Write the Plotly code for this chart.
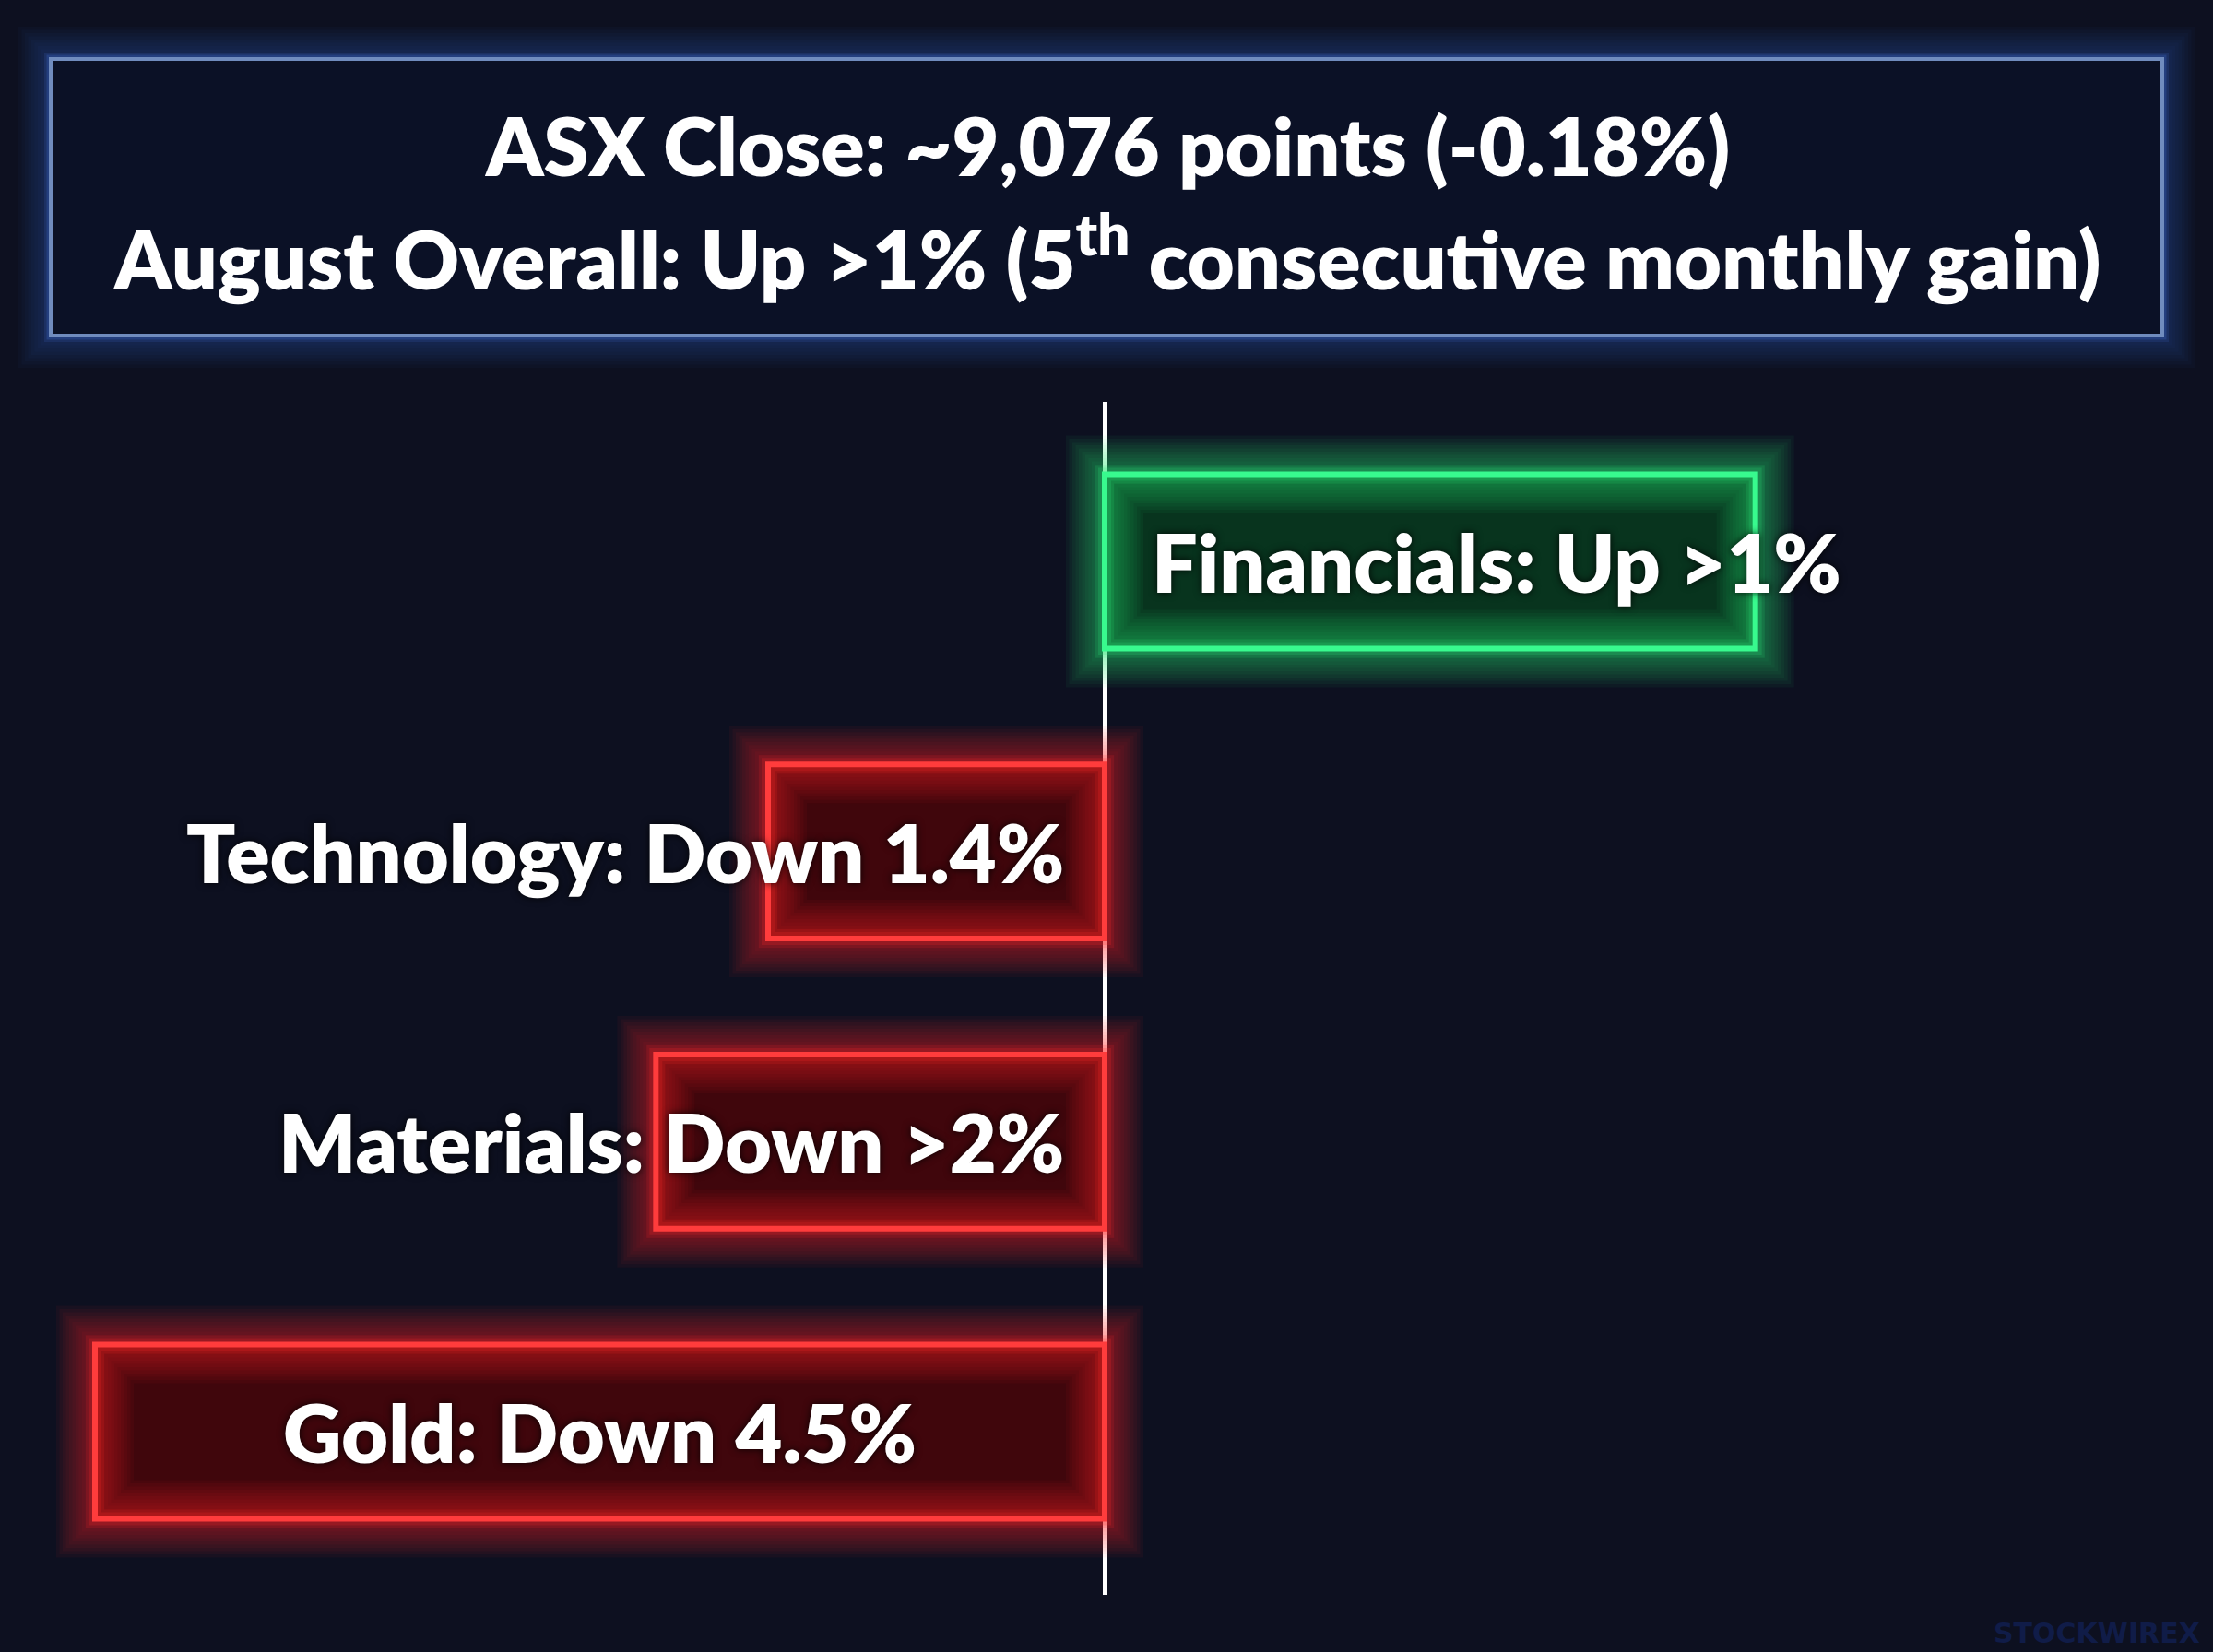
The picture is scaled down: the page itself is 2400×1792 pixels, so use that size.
import plotly.graph_objects as go

# ---- data ----
sectors = ["Financials", "Technology", "Materials", "Gold"]
bar_values = [2.9, -1.5, -2.0, -4.5]          # bar lengths as drawn (percent)
labels = ["Financials: Up >1%", "Technology: Down 1.4%",
          "Materials: Down >2%", "Gold: Down 4.5%"]
title_line1 = "ASX Close: ~9,076 points (-0.18%)"
title_line2 = "August Overall: Up >1% (5<sup>th</sup> consecutive monthly gain)"
watermark = "STOCKWIREX"

# ---- style ----
W, H = 2400, 1792
BG = "#0d1020"
FONT = "Lato"
WEIGHT = 800
fill_cols = ["rgb(8,52,30)" if v > 0 else "rgb(64,6,12)" for v in bar_values]
line_rgb = [(46, 230, 122) if v > 0 else (255, 40, 40) for v in bar_values]
SHADOW = "0px 0px 8px rgba(0,0,0,0.85)"

MT, MB = 436, 62
plot_h = H - MT - MB


def px_to_paper_y(py):
    return (H - MB - py) / plot_h


fig = go.Figure()

# base fill
fig.add_trace(go.Bar(
    x=bar_values, y=sectors, orientation="h", width=0.6,
    marker=dict(color=fill_cols, line=dict(width=0)),
    hoverinfo="skip", showlegend=False,
))
# glow layers (many thin steps for a smooth halo)
glow_steps = [(w, 0.05) for w in range(84, 20, -7)] + [(20, 0.12), (14, 0.2)]
for w, a in glow_steps:
    fig.add_trace(go.Bar(
        x=bar_values, y=sectors, orientation="h", width=0.6,
        marker=dict(color="rgba(0,0,0,0)",
                    line=dict(width=w,
                              color=[f"rgba({r},{g},{b},{a})" for r, g, b in line_rgb])),
        hoverinfo="skip", showlegend=False,
    ))
# crisp outline
fig.add_trace(go.Bar(
    x=bar_values, y=sectors, orientation="h", width=0.6,
    marker=dict(color="rgba(0,0,0,0)",
                line=dict(width=6,
                          color=[f"rgb({min(r+10,255)},{min(g+20,255)},{min(b+20,255)})" for r, g, b in line_rgb])),
    hoverinfo="skip", showlegend=False,
))

# bar labels
anchors = ["left", "right", "right", "center"]
for s, v, lab, anc in zip(sectors, bar_values, labels, anchors):
    if anc == "center":
        xv, shift = v / 2, 0
    elif anc == "left":
        xv, shift = 0, 49
    else:
        xv, shift = 0, -42
    fig.add_annotation(
        x=xv, y=s, xref="x", yref="y", text=lab, showarrow=False,
        xanchor=anc, yanchor="middle", xshift=shift,
        font=dict(family=FONT, size=88, color="white", weight=WEIGHT, shadow=SHADOW),
    )

# title box glow + box
bx0, bx1 = 55 / W, 2345 / W
by0, by1 = px_to_paper_y(364), px_to_paper_y(64)
for w, a in [(w, 0.035) for w in range(70, 16, -7)] + [(14, 0.14), (9, 0.22)]:
    fig.add_shape(type="rect", xref="paper", yref="paper",
                  x0=bx0, x1=bx1, y0=by0, y1=by1,
                  line=dict(color=f"rgba(70,120,230,{a})", width=w),
                  fillcolor="rgba(0,0,0,0)", layer="below")
fig.add_shape(type="rect", xref="paper", yref="paper",
              x0=bx0, x1=bx1, y0=by0, y1=by1,
              line=dict(color="rgb(112,140,190)", width=4),
              fillcolor="rgb(11,17,38)", layer="below")

fig.add_annotation(x=0.5, y=px_to_paper_y(157), xref="paper", yref="paper",
                   text=title_line1, showarrow=False, xanchor="center", yanchor="middle",
                   font=dict(family=FONT, size=88, color="white", weight=WEIGHT))
fig.add_annotation(x=0.5, y=px_to_paper_y(274), xref="paper", yref="paper",
                   text=title_line2, showarrow=False, xanchor="center", yanchor="middle",
                   font=dict(family=FONT, size=88, color="white", weight=WEIGHT))

fig.add_annotation(x=2388 / W, y=px_to_paper_y(1771), xref="paper", yref="paper",
                   text=watermark, showarrow=False, xanchor="right", yanchor="middle",
                   font=dict(family="DejaVu Sans", size=30, color="rgb(16,28,72)", weight="bold"))

# axes: x range so 0 sits at px 1198 and -4.5 at px 103
ppu = (1198 - 103) / 4.5
fig.update_xaxes(range=[-1198 / ppu, (W - 1198) / ppu], showgrid=False,
                 showticklabels=False, zeroline=True, zerolinecolor="white",
                 zerolinewidth=5, layer="above traces", fixedrange=True)
spacing = (1553 - 609) / 3
fig.update_yaxes(categoryorder="array", categoryarray=sectors,
                 range=[3 + (H - MB - 1553) / spacing, -(609 - MT) / spacing],
                 showgrid=False, showticklabels=False, zeroline=False, fixedrange=True)

fig.update_layout(
    width=W, height=H, barmode="overlay",
    margin=dict(l=0, r=0, t=MT, b=MB, pad=0),
    paper_bgcolor=BG, plot_bgcolor=BG, showlegend=False,
)

fig.write_html("out.html", post_script="document.body.style.margin='0';",
               config={"displayModeBar": False})
